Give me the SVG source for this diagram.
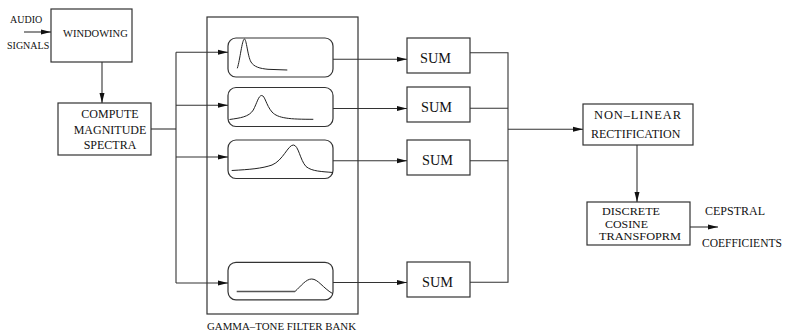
<svg xmlns="http://www.w3.org/2000/svg" width="787" height="336" viewBox="0 0 787 336">
  <style>
    .box { fill: #fff; stroke: #333; stroke-width: 1.2; }
    .fbox { fill: #fff; stroke: #333; stroke-width: 1.2; }
    .wire { fill: none; stroke: #333; stroke-width: 1.1; }
    .curve { fill: none; stroke: #222; stroke-width: 1; }
    .t { font-family: "Liberation Serif", "Times New Roman", serif; fill: #111; }
    .s { font-size: 10px; }
    .m { font-size: 12px; }
    .d { font-size: 11px; }
    .sum { font-size: 14.3px; }
  </style>
  <defs>
    <marker id="arr" markerUnits="userSpaceOnUse" markerWidth="10" markerHeight="6" refX="10" refY="3" orient="auto">
      <path d="M0,0.5 L10,3 L0,5.5 z" fill="#111"/>
    </marker>
  </defs>

  <rect width="787" height="336" fill="#fff"/>

  <!-- input labels -->
  <text class="t s" x="10" y="22.5">AUDIO</text>
  <text class="t s" x="7" y="48.5">SIGNALS</text>

  <g id="windowing">
    <rect class="box" x="51" y="9" width="81" height="53"/>
    <text class="t" style="font-size:10.5px" x="63" y="37.3">WINDOWING</text>
  </g>

  <g id="compute">
    <rect class="box" x="58" y="103" width="93" height="52"/>
    <text class="t m" x="110" y="118" text-anchor="middle">COMPUTE</text>
    <text class="t m" x="110" y="133.5" text-anchor="middle">MAGNITUDE</text>
    <text class="t m" x="110" y="149" text-anchor="middle">SPECTRA</text>
  </g>

  <g id="filterbank">
    <rect class="box" x="207" y="17" width="151" height="297" fill="none"/>
    <text class="t" style="font-size:10.8px" x="207" y="330" textLength="149" lengthAdjust="spacingAndGlyphs">GAMMA–TONE FILTER BANK</text>
  </g>

  <g id="filter1">
    <rect class="fbox" x="228" y="38" width="105" height="39" rx="8"/>
    <path class="curve" d="M237.3,68.3 C240,60 242,40 244.3,39 C246.5,38.5 247.5,56 251,62 C254,67 260,68.5 268,69.3 L287.3,70"/>
  </g>
  <g id="filter2">
    <rect class="fbox" x="228" y="87.5" width="105" height="39" rx="8"/>
    <path class="curve" d="M229.5,119.5 C240,118 249,117 253.3,110 C257,103 258.5,95.5 261.7,95.5 C265,95.5 266,105 272,112 C278,118.5 290,119.3 313.3,119.3"/>
  </g>
  <g id="filter3">
    <rect class="fbox" x="228" y="140" width="105" height="38.5" rx="8"/>
    <path class="curve" d="M231.7,170.5 C250,169.5 262,168.5 272,165 C283,160.5 288,145 293.3,145 C298.5,145 300,160 306,166.5 C312,171.5 322,171.5 333,172.5"/>
  </g>
  <g id="filter4">
    <rect class="fbox" x="228" y="262.3" width="105" height="37.5" rx="8"/>
    <path class="curve" style="stroke:#555;stroke-width:1.3" d="M236.7,291.5 L295,291.5"/>
    <path class="curve" d="M295,291.5 C301,286 306,279 311.7,279 C318,279 323,288 332.5,293.5"/>
  </g>

  <g id="sum1">
    <rect class="box" x="407" y="38" width="63" height="35"/>
    <text class="t sum" x="420" y="62.8">SUM</text>
  </g>
  <g id="sum2">
    <rect class="box" x="407" y="87" width="63" height="35"/>
    <text class="t sum" x="421" y="111.8">SUM</text>
  </g>
  <g id="sum3">
    <rect class="box" x="407" y="140" width="63" height="35"/>
    <text class="t sum" x="422" y="164.8">SUM</text>
  </g>
  <g id="sum4">
    <rect class="box" x="407" y="262" width="63" height="35"/>
    <text class="t sum" x="422" y="286.8">SUM</text>
  </g>

  <g id="rectification">
    <rect class="box" x="583" y="104" width="110" height="41"/>
    <text class="t" style="font-size:12.5px" x="594" y="118.5" textLength="87" lengthAdjust="spacing">NON–LINEAR</text>
    <text class="t m" x="591" y="138">RECTIFICATION</text>
  </g>

  <g id="dct">
    <rect class="box" x="587" y="202" width="103" height="43"/>
    <text class="t d" x="602" y="215" textLength="58" lengthAdjust="spacingAndGlyphs">DISCRETE</text>
    <text class="t d" x="605" y="227.5" textLength="43" lengthAdjust="spacingAndGlyphs">COSINE</text>
    <text class="t d" x="599" y="240" textLength="82" lengthAdjust="spacingAndGlyphs">TRANSFOPRM</text>
  </g>

  <!-- output labels -->
  <text class="t m" x="705" y="215">CEPSTRAL</text>
  <text class="t" style="font-size:11.5px" x="702" y="247">COEFFICIENTS</text>

  <g id="connectors">
    <line class="wire" x1="24" y1="32" x2="51" y2="32" marker-end="url(#arr)"/>
    <line class="wire" x1="102" y1="62" x2="102" y2="103" marker-end="url(#arr)"/>
    <line class="wire" x1="151" y1="129" x2="176" y2="129"/>
    <line class="wire" x1="176" y1="52.3" x2="176" y2="283"/>
    <line class="wire" x1="176" y1="52.3" x2="228" y2="52.3" marker-end="url(#arr)"/>
    <line class="wire" x1="176" y1="105.3" x2="228" y2="105.3" marker-end="url(#arr)"/>
    <line class="wire" x1="176" y1="157" x2="228" y2="157" marker-end="url(#arr)"/>
    <line class="wire" x1="176" y1="283" x2="228" y2="283" marker-end="url(#arr)"/>

    <line class="wire" x1="333" y1="59.3" x2="407" y2="59.3" marker-end="url(#arr)"/>
    <line class="wire" x1="333" y1="108.5" x2="407" y2="108.5" marker-end="url(#arr)"/>
    <line class="wire" x1="333" y1="160.8" x2="407" y2="160.8" marker-end="url(#arr)"/>
    <line class="wire" x1="333" y1="282.5" x2="407" y2="282.5" marker-end="url(#arr)"/>

    <polyline class="wire" points="470,52.7 508,52.7 508,282.3 470,282.3"/>
    <line class="wire" x1="470" y1="108.3" x2="508" y2="108.3"/>
    <line class="wire" x1="470" y1="160.8" x2="508" y2="160.8"/>
    <line class="wire" x1="508" y1="129.3" x2="583" y2="129.3" marker-end="url(#arr)"/>

    <line class="wire" x1="637" y1="145" x2="637" y2="202" marker-end="url(#arr)"/>
    <line class="wire" x1="690" y1="227" x2="718" y2="227" marker-end="url(#arr)"/>
  </g>
</svg>
